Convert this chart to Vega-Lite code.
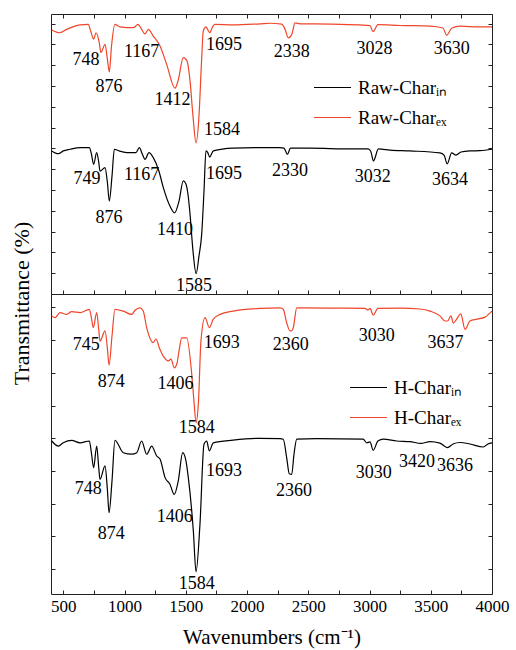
{
  "$schema": "https://vega.github.io/schema/vega-lite/v6.json",
  "padding": {"left": 9, "top": 13, "right": 5, "bottom": 2},
  "bounds": "flush",
  "spacing": 0,
  "background": "white",
  "config": {
    "view": {"stroke": "#222222", "strokeWidth": 1},
    "font": "Liberation Serif, Times New Roman, serif",
    "axis": {"grid": false, "domain": false, "ticks": true, "tickSize": -4, "tickColor": "#222222", "labels": false}
  },
  "datasets": {
    "raw": [
      {"wavenumber": 406, "transmittance": 51.1, "sample": "Raw-Charᵢₙ"},
      {"wavenumber": 460, "transmittance": 50.1, "sample": "Raw-Charᵢₙ"},
      {"wavenumber": 500, "transmittance": 51.1, "sample": "Raw-Charᵢₙ"},
      {"wavenumber": 555, "transmittance": 51.7, "sample": "Raw-Charᵢₙ"},
      {"wavenumber": 637, "transmittance": 52.3, "sample": "Raw-Charᵢₙ"},
      {"wavenumber": 713, "transmittance": 52.3, "sample": "Raw-Charᵢₙ"},
      {"wavenumber": 730, "transmittance": 50.0, "sample": "Raw-Charᵢₙ"},
      {"wavenumber": 748, "transmittance": 46.3, "sample": "Raw-Charᵢₙ"},
      {"wavenumber": 773, "transmittance": 50.5, "sample": "Raw-Charᵢₙ"},
      {"wavenumber": 790, "transmittance": 47.0, "sample": "Raw-Charᵢₙ"},
      {"wavenumber": 800, "transmittance": 43.9, "sample": "Raw-Charᵢₙ"},
      {"wavenumber": 841, "transmittance": 45.1, "sample": "Raw-Charᵢₙ"},
      {"wavenumber": 860, "transmittance": 40.0, "sample": "Raw-Charᵢₙ"},
      {"wavenumber": 876, "transmittance": 33.2, "sample": "Raw-Charᵢₙ"},
      {"wavenumber": 898, "transmittance": 42.1, "sample": "Raw-Charᵢₙ"},
      {"wavenumber": 917, "transmittance": 51.7, "sample": "Raw-Charᵢₙ"},
      {"wavenumber": 960, "transmittance": 51.0, "sample": "Raw-Charᵢₙ"},
      {"wavenumber": 1018, "transmittance": 50.5, "sample": "Raw-Charᵢₙ"},
      {"wavenumber": 1094, "transmittance": 50.5, "sample": "Raw-Charᵢₙ"},
      {"wavenumber": 1121, "transmittance": 52.3, "sample": "Raw-Charᵢₙ"},
      {"wavenumber": 1145, "transmittance": 50.0, "sample": "Raw-Charᵢₙ"},
      {"wavenumber": 1167, "transmittance": 48.1, "sample": "Raw-Charᵢₙ"},
      {"wavenumber": 1200, "transmittance": 50.5, "sample": "Raw-Charᵢₙ"},
      {"wavenumber": 1235, "transmittance": 48.7, "sample": "Raw-Charᵢₙ"},
      {"wavenumber": 1280, "transmittance": 44.0, "sample": "Raw-Charᵢₙ"},
      {"wavenumber": 1317, "transmittance": 38.0, "sample": "Raw-Charᵢₙ"},
      {"wavenumber": 1371, "transmittance": 31.4, "sample": "Raw-Charᵢₙ"},
      {"wavenumber": 1409, "transmittance": 29.0, "sample": "Raw-Charᵢₙ"},
      {"wavenumber": 1445, "transmittance": 33.2, "sample": "Raw-Charᵢₙ"},
      {"wavenumber": 1480, "transmittance": 40.4, "sample": "Raw-Charᵢₙ"},
      {"wavenumber": 1500, "transmittance": 39.5, "sample": "Raw-Charᵢₙ"},
      {"wavenumber": 1520, "transmittance": 35.0, "sample": "Raw-Charᵢₙ"},
      {"wavenumber": 1535, "transmittance": 28.5, "sample": "Raw-Charᵢₙ"},
      {"wavenumber": 1559, "transmittance": 15.4, "sample": "Raw-Charᵢₙ"},
      {"wavenumber": 1585, "transmittance": 7.25, "sample": "Raw-Charᵢₙ"},
      {"wavenumber": 1608, "transmittance": 13.6, "sample": "Raw-Charᵢₙ"},
      {"wavenumber": 1630, "transmittance": 21.3, "sample": "Raw-Charᵢₙ"},
      {"wavenumber": 1649, "transmittance": 36.8, "sample": "Raw-Charᵢₙ"},
      {"wavenumber": 1665, "transmittance": 51.1, "sample": "Raw-Charᵢₙ"},
      {"wavenumber": 1680, "transmittance": 50.5, "sample": "Raw-Charᵢₙ"},
      {"wavenumber": 1695, "transmittance": 48.9, "sample": "Raw-Charᵢₙ"},
      {"wavenumber": 1725, "transmittance": 51.1, "sample": "Raw-Charᵢₙ"},
      {"wavenumber": 1886, "transmittance": 52.1, "sample": "Raw-Charᵢₙ"},
      {"wavenumber": 2106, "transmittance": 52.3, "sample": "Raw-Charᵢₙ"},
      {"wavenumber": 2269, "transmittance": 52.3, "sample": "Raw-Charᵢₙ"},
      {"wavenumber": 2302, "transmittance": 52.1, "sample": "Raw-Charᵢₙ"},
      {"wavenumber": 2330, "transmittance": 49.9, "sample": "Raw-Charᵢₙ"},
      {"wavenumber": 2355, "transmittance": 52.1, "sample": "Raw-Charᵢₙ"},
      {"wavenumber": 2514, "transmittance": 52.1, "sample": "Raw-Charᵢₙ"},
      {"wavenumber": 2841, "transmittance": 51.8, "sample": "Raw-Charᵢₙ"},
      {"wavenumber": 2988, "transmittance": 51.8, "sample": "Raw-Charᵢₙ"},
      {"wavenumber": 3010, "transmittance": 51.0, "sample": "Raw-Charᵢₙ"},
      {"wavenumber": 3032, "transmittance": 47.5, "sample": "Raw-Charᵢₙ"},
      {"wavenumber": 3073, "transmittance": 51.8, "sample": "Raw-Charᵢₙ"},
      {"wavenumber": 3167, "transmittance": 51.4, "sample": "Raw-Charᵢₙ"},
      {"wavenumber": 3330, "transmittance": 51.1, "sample": "Raw-Charᵢₙ"},
      {"wavenumber": 3575, "transmittance": 50.4, "sample": "Raw-Charᵢₙ"},
      {"wavenumber": 3610, "transmittance": 49.5, "sample": "Raw-Charᵢₙ"},
      {"wavenumber": 3634, "transmittance": 46.5, "sample": "Raw-Charᵢₙ"},
      {"wavenumber": 3671, "transmittance": 50.4, "sample": "Raw-Charᵢₙ"},
      {"wavenumber": 3706, "transmittance": 49.6, "sample": "Raw-Charᵢₙ"},
      {"wavenumber": 3747, "transmittance": 50.7, "sample": "Raw-Charᵢₙ"},
      {"wavenumber": 3820, "transmittance": 51.1, "sample": "Raw-Charᵢₙ"},
      {"wavenumber": 3902, "transmittance": 51.2, "sample": "Raw-Charᵢₙ"},
      {"wavenumber": 4000, "transmittance": 51.7, "sample": "Raw-Charᵢₙ"},
      {"wavenumber": 406, "transmittance": 94.3, "sample": "Raw-Charₑₓ"},
      {"wavenumber": 473, "transmittance": 93.3, "sample": "Raw-Charₑₓ"},
      {"wavenumber": 528, "transmittance": 94.5, "sample": "Raw-Charₑₓ"},
      {"wavenumber": 637, "transmittance": 96.1, "sample": "Raw-Charₑₓ"},
      {"wavenumber": 704, "transmittance": 96.3, "sample": "Raw-Charₑₓ"},
      {"wavenumber": 724, "transmittance": 93.9, "sample": "Raw-Charₑₓ"},
      {"wavenumber": 748, "transmittance": 91.0, "sample": "Raw-Charₑₓ"},
      {"wavenumber": 767, "transmittance": 93.3, "sample": "Raw-Charₑₓ"},
      {"wavenumber": 794, "transmittance": 89.8, "sample": "Raw-Charₑₓ"},
      {"wavenumber": 808, "transmittance": 86.2, "sample": "Raw-Charₑₓ"},
      {"wavenumber": 841, "transmittance": 89.2, "sample": "Raw-Charₑₓ"},
      {"wavenumber": 860, "transmittance": 84.0, "sample": "Raw-Charₑₓ"},
      {"wavenumber": 876, "transmittance": 79.3, "sample": "Raw-Charₑₓ"},
      {"wavenumber": 894, "transmittance": 88.6, "sample": "Raw-Charₑₓ"},
      {"wavenumber": 922, "transmittance": 96.3, "sample": "Raw-Charₑₓ"},
      {"wavenumber": 963, "transmittance": 95.4, "sample": "Raw-Charₑₓ"},
      {"wavenumber": 1072, "transmittance": 95.1, "sample": "Raw-Charₑₓ"},
      {"wavenumber": 1110, "transmittance": 96.3, "sample": "Raw-Charₑₓ"},
      {"wavenumber": 1140, "transmittance": 94.5, "sample": "Raw-Charₑₓ"},
      {"wavenumber": 1167, "transmittance": 92.9, "sample": "Raw-Charₑₓ"},
      {"wavenumber": 1194, "transmittance": 94.5, "sample": "Raw-Charₑₓ"},
      {"wavenumber": 1235, "transmittance": 92.1, "sample": "Raw-Charₑₓ"},
      {"wavenumber": 1290, "transmittance": 88.6, "sample": "Raw-Charₑₓ"},
      {"wavenumber": 1344, "transmittance": 82.0, "sample": "Raw-Charₑₓ"},
      {"wavenumber": 1412, "transmittance": 73.5, "sample": "Raw-Charₑₓ"},
      {"wavenumber": 1437, "transmittance": 76.1, "sample": "Raw-Charₑₓ"},
      {"wavenumber": 1480, "transmittance": 84.4, "sample": "Raw-Charₑₓ"},
      {"wavenumber": 1510, "transmittance": 83.2, "sample": "Raw-Charₑₓ"},
      {"wavenumber": 1535, "transmittance": 76.1, "sample": "Raw-Charₑₓ"},
      {"wavenumber": 1559, "transmittance": 63.6, "sample": "Raw-Charₑₓ"},
      {"wavenumber": 1584, "transmittance": 54.0, "sample": "Raw-Charₑₓ"},
      {"wavenumber": 1608, "transmittance": 63.6, "sample": "Raw-Charₑₓ"},
      {"wavenumber": 1629, "transmittance": 83.2, "sample": "Raw-Charₑₓ"},
      {"wavenumber": 1643, "transmittance": 93.9, "sample": "Raw-Charₑₓ"},
      {"wavenumber": 1665, "transmittance": 95.4, "sample": "Raw-Charₑₓ"},
      {"wavenumber": 1695, "transmittance": 93.3, "sample": "Raw-Charₑₓ"},
      {"wavenumber": 1722, "transmittance": 95.7, "sample": "Raw-Charₑₓ"},
      {"wavenumber": 1739, "transmittance": 96.3, "sample": "Raw-Charₑₓ"},
      {"wavenumber": 1886, "transmittance": 96.1, "sample": "Raw-Charₑₓ"},
      {"wavenumber": 2106, "transmittance": 96.5, "sample": "Raw-Charₑₓ"},
      {"wavenumber": 2188, "transmittance": 96.7, "sample": "Raw-Charₑₓ"},
      {"wavenumber": 2283, "transmittance": 96.4, "sample": "Raw-Charₑₓ"},
      {"wavenumber": 2310, "transmittance": 94.6, "sample": "Raw-Charₑₓ"},
      {"wavenumber": 2338, "transmittance": 91.5, "sample": "Raw-Charₑₓ"},
      {"wavenumber": 2367, "transmittance": 92.9, "sample": "Raw-Charₑₓ"},
      {"wavenumber": 2392, "transmittance": 96.8, "sample": "Raw-Charₑₓ"},
      {"wavenumber": 2433, "transmittance": 96.5, "sample": "Raw-Charₑₓ"},
      {"wavenumber": 2678, "transmittance": 96.4, "sample": "Raw-Charₑₓ"},
      {"wavenumber": 2922, "transmittance": 96.1, "sample": "Raw-Charₑₓ"},
      {"wavenumber": 3004, "transmittance": 95.9, "sample": "Raw-Charₑₓ"},
      {"wavenumber": 3028, "transmittance": 93.7, "sample": "Raw-Charₑₓ"},
      {"wavenumber": 3069, "transmittance": 96.2, "sample": "Raw-Charₑₓ"},
      {"wavenumber": 3249, "transmittance": 95.9, "sample": "Raw-Charₑₓ"},
      {"wavenumber": 3494, "transmittance": 95.7, "sample": "Raw-Charₑₓ"},
      {"wavenumber": 3600, "transmittance": 95.0, "sample": "Raw-Charₑₓ"},
      {"wavenumber": 3630, "transmittance": 92.4, "sample": "Raw-Charₑₓ"},
      {"wavenumber": 3673, "transmittance": 95.0, "sample": "Raw-Charₑₓ"},
      {"wavenumber": 3739, "transmittance": 95.7, "sample": "Raw-Charₑₓ"},
      {"wavenumber": 3820, "transmittance": 95.5, "sample": "Raw-Charₑₓ"},
      {"wavenumber": 3902, "transmittance": 95.4, "sample": "Raw-Charₑₓ"},
      {"wavenumber": 4000, "transmittance": 95.4, "sample": "Raw-Charₑₓ"}
    ],
    "hchar": [
      {"wavenumber": 406, "transmittance": 51.0, "sample": "H-Charᵢₙ"},
      {"wavenumber": 460, "transmittance": 49.3, "sample": "H-Charᵢₙ"},
      {"wavenumber": 500, "transmittance": 50.4, "sample": "H-Charᵢₙ"},
      {"wavenumber": 569, "transmittance": 51.2, "sample": "H-Charᵢₙ"},
      {"wavenumber": 637, "transmittance": 50.4, "sample": "H-Charᵢₙ"},
      {"wavenumber": 713, "transmittance": 51.0, "sample": "H-Charᵢₙ"},
      {"wavenumber": 730, "transmittance": 47.0, "sample": "H-Charᵢₙ"},
      {"wavenumber": 748, "transmittance": 42.1, "sample": "H-Charᵢₙ"},
      {"wavenumber": 773, "transmittance": 49.3, "sample": "H-Charᵢₙ"},
      {"wavenumber": 790, "transmittance": 42.0, "sample": "H-Charᵢₙ"},
      {"wavenumber": 800, "transmittance": 38.2, "sample": "H-Charᵢₙ"},
      {"wavenumber": 841, "transmittance": 42.7, "sample": "H-Charᵢₙ"},
      {"wavenumber": 860, "transmittance": 35.0, "sample": "H-Charᵢₙ"},
      {"wavenumber": 874, "transmittance": 27.1, "sample": "H-Charᵢₙ"},
      {"wavenumber": 898, "transmittance": 37.7, "sample": "H-Charᵢₙ"},
      {"wavenumber": 922, "transmittance": 51.2, "sample": "H-Charᵢₙ"},
      {"wavenumber": 990, "transmittance": 47.1, "sample": "H-Charᵢₙ"},
      {"wavenumber": 1059, "transmittance": 46.6, "sample": "H-Charᵢₙ"},
      {"wavenumber": 1100, "transmittance": 47.1, "sample": "H-Charᵢₙ"},
      {"wavenumber": 1140, "transmittance": 51.0, "sample": "H-Charᵢₙ"},
      {"wavenumber": 1181, "transmittance": 46.6, "sample": "H-Charᵢₙ"},
      {"wavenumber": 1222, "transmittance": 49.3, "sample": "H-Charᵢₙ"},
      {"wavenumber": 1263, "transmittance": 46.0, "sample": "H-Charᵢₙ"},
      {"wavenumber": 1290, "transmittance": 45.0, "sample": "H-Charᵢₙ"},
      {"wavenumber": 1331, "transmittance": 38.8, "sample": "H-Charᵢₙ"},
      {"wavenumber": 1371, "transmittance": 36.6, "sample": "H-Charᵢₙ"},
      {"wavenumber": 1406, "transmittance": 33.2, "sample": "H-Charᵢₙ"},
      {"wavenumber": 1439, "transmittance": 37.7, "sample": "H-Charᵢₙ"},
      {"wavenumber": 1475, "transmittance": 47.1, "sample": "H-Charᵢₙ"},
      {"wavenumber": 1502, "transmittance": 44.3, "sample": "H-Charᵢₙ"},
      {"wavenumber": 1521, "transmittance": 38.8, "sample": "H-Charᵢₙ"},
      {"wavenumber": 1562, "transmittance": 21.0, "sample": "H-Charᵢₙ"},
      {"wavenumber": 1584, "transmittance": 7.4, "sample": "H-Charᵢₙ"},
      {"wavenumber": 1616, "transmittance": 23.2, "sample": "H-Charᵢₙ"},
      {"wavenumber": 1649, "transmittance": 49.9, "sample": "H-Charᵢₙ"},
      {"wavenumber": 1671, "transmittance": 51.0, "sample": "H-Charᵢₙ"},
      {"wavenumber": 1692, "transmittance": 47.7, "sample": "H-Charᵢₙ"},
      {"wavenumber": 1725, "transmittance": 50.4, "sample": "H-Charᵢₙ"},
      {"wavenumber": 1886, "transmittance": 51.3, "sample": "H-Charᵢₙ"},
      {"wavenumber": 2106, "transmittance": 51.9, "sample": "H-Charᵢₙ"},
      {"wavenumber": 2269, "transmittance": 51.8, "sample": "H-Charᵢₙ"},
      {"wavenumber": 2296, "transmittance": 51.6, "sample": "H-Charᵢₙ"},
      {"wavenumber": 2324, "transmittance": 45.4, "sample": "H-Charᵢₙ"},
      {"wavenumber": 2345, "transmittance": 40.1, "sample": "H-Charᵢₙ"},
      {"wavenumber": 2365, "transmittance": 39.9, "sample": "H-Charᵢₙ"},
      {"wavenumber": 2384, "transmittance": 46.7, "sample": "H-Charᵢₙ"},
      {"wavenumber": 2406, "transmittance": 51.6, "sample": "H-Charᵢₙ"},
      {"wavenumber": 2569, "transmittance": 51.8, "sample": "H-Charᵢₙ"},
      {"wavenumber": 2949, "transmittance": 51.6, "sample": "H-Charᵢₙ"},
      {"wavenumber": 2977, "transmittance": 50.4, "sample": "H-Charᵢₙ"},
      {"wavenumber": 3004, "transmittance": 50.7, "sample": "H-Charᵢₙ"},
      {"wavenumber": 3030, "transmittance": 47.9, "sample": "H-Charᵢₙ"},
      {"wavenumber": 3069, "transmittance": 51.0, "sample": "H-Charᵢₙ"},
      {"wavenumber": 3113, "transmittance": 51.6, "sample": "H-Charᵢₙ"},
      {"wavenumber": 3222, "transmittance": 51.0, "sample": "H-Charᵢₙ"},
      {"wavenumber": 3330, "transmittance": 50.8, "sample": "H-Charᵢₙ"},
      {"wavenumber": 3420, "transmittance": 50.2, "sample": "H-Charᵢₙ"},
      {"wavenumber": 3494, "transmittance": 50.8, "sample": "H-Charᵢₙ"},
      {"wavenumber": 3575, "transmittance": 50.3, "sample": "H-Charᵢₙ"},
      {"wavenumber": 3636, "transmittance": 48.8, "sample": "H-Charᵢₙ"},
      {"wavenumber": 3682, "transmittance": 50.0, "sample": "H-Charᵢₙ"},
      {"wavenumber": 3739, "transmittance": 50.5, "sample": "H-Charᵢₙ"},
      {"wavenumber": 3820, "transmittance": 50.0, "sample": "H-Charᵢₙ"},
      {"wavenumber": 3929, "transmittance": 49.0, "sample": "H-Charᵢₙ"},
      {"wavenumber": 3967, "transmittance": 50.0, "sample": "H-Charᵢₙ"},
      {"wavenumber": 4000, "transmittance": 50.4, "sample": "H-Charᵢₙ"},
      {"wavenumber": 406, "transmittance": 92.7, "sample": "H-Charₑₓ"},
      {"wavenumber": 433, "transmittance": 92.1, "sample": "H-Charₑₓ"},
      {"wavenumber": 473, "transmittance": 93.8, "sample": "H-Charₑₓ"},
      {"wavenumber": 528, "transmittance": 93.2, "sample": "H-Charₑₓ"},
      {"wavenumber": 569, "transmittance": 94.1, "sample": "H-Charₑₓ"},
      {"wavenumber": 637, "transmittance": 93.8, "sample": "H-Charₑₓ"},
      {"wavenumber": 713, "transmittance": 94.9, "sample": "H-Charₑₓ"},
      {"wavenumber": 730, "transmittance": 92.0, "sample": "H-Charₑₓ"},
      {"wavenumber": 745, "transmittance": 88.8, "sample": "H-Charₑₓ"},
      {"wavenumber": 773, "transmittance": 93.8, "sample": "H-Charₑₓ"},
      {"wavenumber": 790, "transmittance": 88.0, "sample": "H-Charₑₓ"},
      {"wavenumber": 800, "transmittance": 84.3, "sample": "H-Charₑₓ"},
      {"wavenumber": 841, "transmittance": 87.7, "sample": "H-Charₑₓ"},
      {"wavenumber": 860, "transmittance": 82.0, "sample": "H-Charₑₓ"},
      {"wavenumber": 874, "transmittance": 76.3, "sample": "H-Charₑₓ"},
      {"wavenumber": 898, "transmittance": 86.0, "sample": "H-Charₑₓ"},
      {"wavenumber": 922, "transmittance": 94.9, "sample": "H-Charₑₓ"},
      {"wavenumber": 990, "transmittance": 94.3, "sample": "H-Charₑₓ"},
      {"wavenumber": 1059, "transmittance": 93.2, "sample": "H-Charₑₓ"},
      {"wavenumber": 1086, "transmittance": 94.6, "sample": "H-Charₑₓ"},
      {"wavenumber": 1127, "transmittance": 95.4, "sample": "H-Charₑₓ"},
      {"wavenumber": 1153, "transmittance": 94.3, "sample": "H-Charₑₓ"},
      {"wavenumber": 1181, "transmittance": 88.8, "sample": "H-Charₑₓ"},
      {"wavenumber": 1235, "transmittance": 83.8, "sample": "H-Charₑₓ"},
      {"wavenumber": 1257, "transmittance": 85.0, "sample": "H-Charₑₓ"},
      {"wavenumber": 1284, "transmittance": 82.1, "sample": "H-Charₑₓ"},
      {"wavenumber": 1317, "transmittance": 79.3, "sample": "H-Charₑₓ"},
      {"wavenumber": 1358, "transmittance": 77.7, "sample": "H-Charₑₓ"},
      {"wavenumber": 1380, "transmittance": 78.3, "sample": "H-Charₑₓ"},
      {"wavenumber": 1406, "transmittance": 75.4, "sample": "H-Charₑₓ"},
      {"wavenumber": 1429, "transmittance": 77.0, "sample": "H-Charₑₓ"},
      {"wavenumber": 1445, "transmittance": 81.0, "sample": "H-Charₑₓ"},
      {"wavenumber": 1467, "transmittance": 85.4, "sample": "H-Charₑₓ"},
      {"wavenumber": 1508, "transmittance": 85.4, "sample": "H-Charₑₓ"},
      {"wavenumber": 1549, "transmittance": 73.2, "sample": "H-Charₑₓ"},
      {"wavenumber": 1567, "transmittance": 64.3, "sample": "H-Charₑₓ"},
      {"wavenumber": 1584, "transmittance": 57.1, "sample": "H-Charₑₓ"},
      {"wavenumber": 1604, "transmittance": 64.3, "sample": "H-Charₑₓ"},
      {"wavenumber": 1624, "transmittance": 84.3, "sample": "H-Charₑₓ"},
      {"wavenumber": 1657, "transmittance": 92.1, "sample": "H-Charₑₓ"},
      {"wavenumber": 1693, "transmittance": 88.8, "sample": "H-Charₑₓ"},
      {"wavenumber": 1725, "transmittance": 91.6, "sample": "H-Charₑₓ"},
      {"wavenumber": 1780, "transmittance": 93.2, "sample": "H-Charₑₓ"},
      {"wavenumber": 1886, "transmittance": 94.3, "sample": "H-Charₑₓ"},
      {"wavenumber": 2106, "transmittance": 95.2, "sample": "H-Charₑₓ"},
      {"wavenumber": 2269, "transmittance": 95.4, "sample": "H-Charₑₓ"},
      {"wavenumber": 2296, "transmittance": 94.9, "sample": "H-Charₑₓ"},
      {"wavenumber": 2324, "transmittance": 90.4, "sample": "H-Charₑₓ"},
      {"wavenumber": 2351, "transmittance": 87.7, "sample": "H-Charₑₓ"},
      {"wavenumber": 2361, "transmittance": 87.7, "sample": "H-Charₑₓ"},
      {"wavenumber": 2378, "transmittance": 88.8, "sample": "H-Charₑₓ"},
      {"wavenumber": 2406, "transmittance": 95.4, "sample": "H-Charₑₓ"},
      {"wavenumber": 2678, "transmittance": 95.3, "sample": "H-Charₑₓ"},
      {"wavenumber": 2963, "transmittance": 95.2, "sample": "H-Charₑₓ"},
      {"wavenumber": 2988, "transmittance": 94.7, "sample": "H-Charₑₓ"},
      {"wavenumber": 3004, "transmittance": 95.2, "sample": "H-Charₑₓ"},
      {"wavenumber": 3030, "transmittance": 93.0, "sample": "H-Charₑₓ"},
      {"wavenumber": 3069, "transmittance": 95.2, "sample": "H-Charₑₓ"},
      {"wavenumber": 3249, "transmittance": 95.3, "sample": "H-Charₑₓ"},
      {"wavenumber": 3412, "transmittance": 95.0, "sample": "H-Charₑₓ"},
      {"wavenumber": 3494, "transmittance": 94.3, "sample": "H-Charₑₓ"},
      {"wavenumber": 3575, "transmittance": 92.7, "sample": "H-Charₑₓ"},
      {"wavenumber": 3616, "transmittance": 91.0, "sample": "H-Charₑₓ"},
      {"wavenumber": 3637, "transmittance": 91.0, "sample": "H-Charₑₓ"},
      {"wavenumber": 3665, "transmittance": 92.7, "sample": "H-Charₑₓ"},
      {"wavenumber": 3684, "transmittance": 90.3, "sample": "H-Charₑₓ"},
      {"wavenumber": 3706, "transmittance": 91.3, "sample": "H-Charₑₓ"},
      {"wavenumber": 3745, "transmittance": 93.4, "sample": "H-Charₑₓ"},
      {"wavenumber": 3780, "transmittance": 88.2, "sample": "H-Charₑₓ"},
      {"wavenumber": 3820, "transmittance": 91.0, "sample": "H-Charₑₓ"},
      {"wavenumber": 3878, "transmittance": 91.6, "sample": "H-Charₑₓ"},
      {"wavenumber": 3943, "transmittance": 92.3, "sample": "H-Charₑₓ"},
      {"wavenumber": 3984, "transmittance": 93.7, "sample": "H-Charₑₓ"},
      {"wavenumber": 4000, "transmittance": 94.3, "sample": "H-Charₑₓ"}
    ],
    "rawLabels": [
      {"wavenumber": 686, "transmittance": 83.6, "label": "748"},
      {"wavenumber": 873, "transmittance": 73.9, "label": "876"},
      {"wavenumber": 1140, "transmittance": 86.4, "label": "1167"},
      {"wavenumber": 1392, "transmittance": 69.3, "label": "1412"},
      {"wavenumber": 1796, "transmittance": 58.6, "label": "1584"},
      {"wavenumber": 1812, "transmittance": 88.9, "label": "1695"},
      {"wavenumber": 2365, "transmittance": 86.4, "label": "2338"},
      {"wavenumber": 3041, "transmittance": 87.5, "label": "3028"},
      {"wavenumber": 3671, "transmittance": 87.5, "label": "3630"},
      {"wavenumber": 694, "transmittance": 41.1, "label": "749"},
      {"wavenumber": 873, "transmittance": 27.1, "label": "876"},
      {"wavenumber": 1140, "transmittance": 42.5, "label": "1167"},
      {"wavenumber": 1412, "transmittance": 22.9, "label": "1410"},
      {"wavenumber": 1567, "transmittance": 2.9, "label": "1585"},
      {"wavenumber": 1812, "transmittance": 42.9, "label": "1695"},
      {"wavenumber": 2351, "transmittance": 43.9, "label": "2330"},
      {"wavenumber": 3026, "transmittance": 41.8, "label": "3032"},
      {"wavenumber": 3657, "transmittance": 40.7, "label": "3634"}
    ],
    "hLabels": [
      {"wavenumber": 688, "transmittance": 83, "label": "745"},
      {"wavenumber": 892, "transmittance": 70.7, "label": "874"},
      {"wavenumber": 1416, "transmittance": 70, "label": "1406"},
      {"wavenumber": 1589, "transmittance": 55.3, "label": "1584"},
      {"wavenumber": 1793, "transmittance": 83.7, "label": "1693"},
      {"wavenumber": 2357, "transmittance": 83, "label": "2360"},
      {"wavenumber": 3059, "transmittance": 86, "label": "3030"},
      {"wavenumber": 3621, "transmittance": 83.7, "label": "3637"},
      {"wavenumber": 705, "transmittance": 35, "label": "748"},
      {"wavenumber": 892, "transmittance": 20, "label": "874"},
      {"wavenumber": 1410, "transmittance": 25.7, "label": "1406"},
      {"wavenumber": 1589, "transmittance": 3.3, "label": "1584"},
      {"wavenumber": 1812, "transmittance": 41, "label": "1693"},
      {"wavenumber": 2384, "transmittance": 34.3, "label": "2360"},
      {"wavenumber": 3034, "transmittance": 40.3, "label": "3030"},
      {"wavenumber": 3388, "transmittance": 44, "label": "3420"},
      {"wavenumber": 3698, "transmittance": 42.7, "label": "3636"}
    ]
  },
  "vconcat": [
    {
      "width": 441,
      "height": 280,
      "layer": [
        {
          "data": {"name": "raw"},
          "mark": {"type": "line", "strokeWidth": 1.2, "interpolate": "monotone"},
          "encoding": {
            "x": {"field": "wavenumber", "type": "quantitative", "scale": {"domain": [400, 4000], "nice": false, "zero": false},
                  "axis": {"orient": "bottom", "values": [500, 750, 1000, 1250, 1500, 1750, 2000, 2250, 2500, 2750, 3000, 3250, 3500, 3750, 4000], "labels": false, "title": null}},
            "y": {"field": "transmittance", "type": "quantitative", "scale": {"domain": [0, 100], "nice": false, "zero": false},
                  "axis": {"orient": "left", "values": [7.43, 14.86, 22.29, 29.71, 37.14, 44.57, 52, 59.43, 66.86, 74.29, 81.71, 89.14, 96.57], "labels": false,
                           "title": "Transmittance  (%)", "titleFont": "Liberation Serif, Times New Roman, serif", "titleFontSize": 22, "titleFontWeight": "normal", "titleColor": "#000000",
                           "titleAngle": -90, "titleX": -30, "titleY": 289, "titleAlign": "center", "titleBaseline": "middle"}},
            "color": {"field": "sample", "type": "nominal",
                      "scale": {"domain": ["Raw-Charᵢₙ", "Raw-Charₑₓ"], "range": ["#000000", "#f0452a"]},
                      "legend": {"orient": "none", "legendX": 262, "legendY": 54, "title": null, "symbolType": "stroke", "symbolSize": 1369, "symbolStrokeWidth": 1.2,
                                 "labelFont": "Liberation Serif, Times New Roman, serif", "labelFontSize": 19, "labelColor": "#000000", "labelOffset": 6, "rowPadding": 0}}
          }
        },
        {
          "data": {"name": "rawLabels"},
          "mark": {"type": "text", "font": "Liberation Serif, Times New Roman, serif", "fontSize": 18, "color": "#000000", "align": "center", "baseline": "middle"},
          "encoding": {
            "x": {"field": "wavenumber", "type": "quantitative",
                  "axis": {"orient": "top", "values": [500, 750, 1000, 1250, 1500, 1750, 2000, 2250, 2500, 2750, 3000, 3250, 3500, 3750, 4000], "labels": false, "title": null}},
            "y": {"field": "transmittance", "type": "quantitative",
                  "axis": {"orient": "right", "values": [7.43, 14.86, 22.29, 29.71, 37.14, 44.57, 52, 59.43, 66.86, 74.29, 81.71, 89.14, 96.57], "labels": false, "title": null}},
            "text": {"field": "label", "type": "nominal"}
          }
        }
      ],
      "resolve": {"axis": {"x": "independent", "y": "independent"}}
    },
    {
      "width": 441,
      "height": 300,
      "layer": [
        {
          "data": {"name": "hchar"},
          "mark": {"type": "line", "strokeWidth": 1.2, "interpolate": "monotone"},
          "encoding": {
            "x": {"field": "wavenumber", "type": "quantitative", "scale": {"domain": [400, 4000], "nice": false, "zero": false},
                  "axis": {"orient": "bottom", "values": [500, 750, 1000, 1250, 1500, 1750, 2000, 2250, 2500, 2750, 3000, 3250, 3500, 3750, 4000],
                           "labels": true, "format": "d", "labelExpr": "datum.value % 500 === 0 ? datum.label : ''", "labelFlush": false,
                           "labelFont": "Liberation Serif, Times New Roman, serif", "labelFontSize": 17, "labelColor": "#000000", "labelPadding": 8,
                           "title": "Wavenumbers (cm⁻¹)", "titleFont": "Liberation Serif, Times New Roman, serif", "titleFontSize": 21, "titleFontWeight": "normal", "titleColor": "#000000", "titlePadding": 12}},
            "y": {"field": "transmittance", "type": "quantitative", "scale": {"domain": [0, 100], "nice": false, "zero": false},
                  "axis": {"orient": "left", "values": [8.33, 19.23, 30.13, 41.03, 51.93, 62.83, 73.73, 84.63, 95.53], "labels": false, "title": null}},
            "color": {"field": "sample", "type": "nominal",
                      "scale": {"domain": ["H-Charᵢₙ", "H-Charₑₓ"], "range": ["#000000", "#f0452a"]},
                      "legend": {"orient": "none", "legendX": 298, "legendY": 74, "title": null, "symbolType": "stroke", "symbolSize": 1369, "symbolStrokeWidth": 1.2,
                                 "labelFont": "Liberation Serif, Times New Roman, serif", "labelFontSize": 19, "labelColor": "#000000", "labelOffset": 6, "rowPadding": 0}}
          }
        },
        {
          "data": {"name": "hLabels"},
          "mark": {"type": "text", "font": "Liberation Serif, Times New Roman, serif", "fontSize": 18, "color": "#000000", "align": "center", "baseline": "middle"},
          "encoding": {
            "x": {"field": "wavenumber", "type": "quantitative", "axis": null},
            "y": {"field": "transmittance", "type": "quantitative",
                  "axis": {"orient": "right", "values": [8.33, 19.23, 30.13, 41.03, 51.93, 62.83, 73.73, 84.63, 95.53], "labels": false, "title": null}},
            "text": {"field": "label", "type": "nominal"}
          }
        }
      ],
      "resolve": {"axis": {"x": "independent", "y": "independent"}}
    }
  ],
  "resolve": {"scale": {"color": "independent"}, "legend": {"color": "independent"}}
}
